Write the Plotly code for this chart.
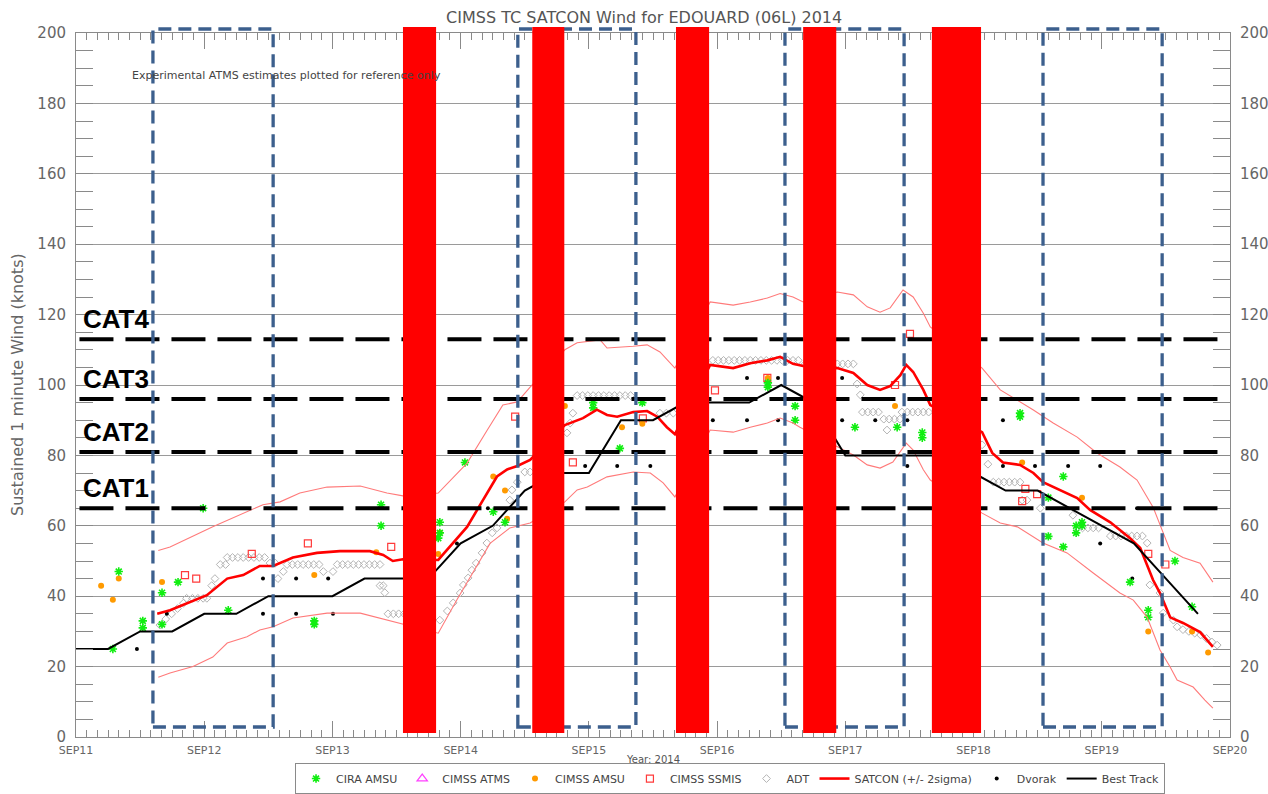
import plotly.graph_objects as go

# ---------------- DATA (hours after 11 Sep 2014 00Z, knots) ----------------
day_labels = ["SEP11", "SEP12", "SEP13", "SEP14", "SEP15", "SEP16", "SEP17", "SEP18", "SEP19", "SEP20"]
day_hours = [0, 24, 48, 72, 96, 120, 144, 168, 192, 216]

bt_hours = [0, 6, 12, 18, 24, 30, 36, 42, 48, 54, 60, 66, 72, 78, 84, 90, 96, 102,
            108, 114, 120, 126, 132, 138, 144, 150, 156, 162, 168, 174, 180, 186, 192, 198, 204, 210]
bt_kt = [25, 25, 30, 30, 35, 35, 40, 40, 40, 45, 45, 45, 55, 60, 70, 75, 75, 90,
         90, 95, 95, 95, 100, 95, 80, 80, 80, 80, 75, 70, 70, 65, 60, 55, 45, 35]

sat_hours = [15.2, 17.6, 24.5, 28.3, 31.3, 34.4, 36.9, 40.6, 45.1, 49.4, 55.0, 57.5, 59.3, 61.2, 67.8,
             73.2, 78.8, 80.7, 82.6, 85.0, 91.5, 94.9, 97.5, 99.4, 101.3, 104.3, 106.9, 108.8, 110.6, 112.1,
             118.7, 123.0, 126.2, 129.4, 131.8, 134.2, 136.1, 142.5, 145.5, 148.1, 150.5, 152.4, 154.3, 155.4,
             156.7, 158.6, 159.9, 169.6, 171.5, 173.5, 176.7, 179.2, 181.0, 184.8, 187.4, 189.8, 193.6, 197.3,
             199.2, 201.6, 202.9, 204.8, 207.2, 210.4, 211.7, 212.8]
sat_kt = [35, 36, 40.3, 45, 46, 48.6, 48.6, 51, 52.3, 52.8, 52.8, 51.7, 50, 50.5, 50.3,
          59.7, 74, 76, 77, 78.7, 88.6, 90.6, 93, 91.5, 91, 92.3, 92.6, 91, 88, 86,
          105.7, 104.8, 106.2, 107, 108, 106, 105.4, 104.8, 103.4, 100, 98.6, 99.7, 102.8, 105.7,
          103.7, 98.6, 94.3, 86.6, 80.7, 78, 77.3, 75, 72.4, 69.6, 67.9, 64.5, 61, 56.5,
          53.7, 44.6, 40.9, 34, 32.4, 29.8, 27.6, 25.6]

sat_up_hours = [15.4, 17.6, 25.6, 31.3, 35.0, 38.2, 41.9, 47.0, 53.2, 58.2, 61.2, 67.8, 73.2, 76.9, 79.9,
                82.6, 85.0, 91.5, 93.8, 98.1, 99.4, 104.3, 106.9, 109.3, 112.1, 118.7, 123.0, 126.2, 129.4,
                131.8, 134.2, 136.1, 142.5, 145.5, 148.1, 150.5, 152.4, 154.8, 156.7, 158.6, 159.9, 169.6,
                173.0, 179.2, 182.9, 187.4, 191.1, 195.4, 198.6, 201.6, 203.5, 204.8, 207.2, 210.4, 212.8]
sat_up_kt = [53, 54, 59.7, 63.6, 66, 66.8, 69.3, 71, 71.3, 69.3, 68.5, 69.3, 77.8, 87, 94.3,
             95.2, 99.4, 110, 112, 112.8, 110.5, 111, 111.4, 109.4, 104.8, 123.6, 122.7, 123.6, 124.7,
             126, 125, 123.6, 126.4, 125.6, 122.2, 120.7, 121.9, 127, 125, 120.4, 116.5, 104.8,
             98.6, 92.9, 89.2, 85.2, 80.7, 76.7, 73, 65.3, 58, 53, 51, 49.4, 44]

sat_lo_hours = [15.4, 17.6, 21.9, 25.6, 28.3, 32.0, 34.4, 36.9, 40.6, 47.0, 53.2, 58.2, 61.2, 67.8, 71.3,
                77.5, 81.2, 85.0, 91.5, 93.8, 95.7, 98.1, 99.4, 104.3, 107.5, 109.9, 112.1, 118.7, 123.0,
                126.2, 129.4, 131.8, 134.2, 135.5, 142.5, 145.5, 148.1, 150.5, 152.9, 155.4, 156.7, 158.6,
                159.9, 169.6, 173.0, 176.2, 181.0, 185.5, 190.4, 195.4, 197.9, 200.5, 202.9, 204.8, 206.1,
                209.1, 211.3, 212.8]
sat_lo_kt = [17, 18.2, 20, 22.7, 26.7, 28.5, 30.4, 31.3, 33.8, 35.2, 35.2, 33.2, 32, 29.5, 39,
             55, 59.4, 60.8, 66.8, 70.2, 71, 73, 73.9, 75.3, 75, 72.2, 68.2, 87.2, 86.6,
             88, 89.2, 90.6, 89.2, 88, 82.4, 80.1, 77.3, 76.4, 78.1, 83.5, 81.5, 75.9,
             73, 63.6, 60.8, 59.7, 55.1, 52.3, 46.6, 40.9, 38.9, 34, 24.7, 19.9, 16.2,
             14.2, 10.5, 8.2]

adt_hours = [15.7, 16.8, 17.9, 19.0, 20.1, 20.7, 21.8, 22.8, 23.8, 24.5,
             25.4, 26.0, 27.0, 28.0,
             28.3, 29.3, 30.3, 31.3, 32.3, 33.3, 34.3, 35.3,
             36.3, 37.3, 37.8, 38.8,
             39.5, 40.5, 41.5, 42.5, 43.5, 44.5, 45.5,
             46.3, 48.1,
             48.9, 49.9, 50.9, 51.9, 52.9, 53.9, 54.9, 55.9, 56.9,
             56.9, 57.5, 57.8,
             58.4, 59.4, 60.4, 61.4, 62.4,
             68.1, 69.5, 70.6, 71.9, 72.5, 73.4, 74.1, 74.9, 76.0, 76.9, 77.9, 78.8, 81.2, 81.6, 82.6, 84.0, 85.0,
             91.9, 92.5, 93.0,
             93.8, 94.8, 95.8, 96.8, 97.8, 98.8, 99.8, 100.8, 101.8, 102.8, 103.8,
             109.3, 110.5, 111.8,
             119.2, 120.2, 121.2, 122.2, 123.2, 124.2, 125.2, 126.2, 127.2, 128.2, 129.2, 130.2, 131.2, 132.2,
             133.2, 134.2, 135.2,
             136.5, 137.5, 138.5, 139.5, 140.5, 141.5, 142.5, 143.5, 144.5, 145.5,
             146.2, 146.8,
             147.2, 148.2, 149.2, 150.2,
             151.2, 152.2, 153.2, 154.2,
             151.8,
             154.6, 155.6, 156.6, 157.6, 158.6, 159.6,
             169.6, 170.7,
             171.7, 172.7, 173.7, 174.7, 175.7, 176.7,
             177.1, 178.0, 180.5, 186.6,
             187.4, 188.4, 189.4, 190.4, 191.4,
             193.6, 194.6, 195.6, 196.6, 197.6, 198.6, 199.6,
             200.5, 201.0, 202.9, 203.5, 205.4,
             206.1, 207.2, 208.3, 209.4, 210.5, 211.6, 212.6, 213.6]
adt_kt = [31.8, 33.5, 35, 36.5, 38, 39.4, 39.4, 39.4, 39.4, 39.4,
          43, 45, 49, 49,
          51, 51, 51, 51, 51, 51, 51, 51,
          49.4, 49.4, 45, 47,
          49, 49, 49, 49, 49, 49, 49,
          47, 47,
          49, 49, 49, 49, 49, 49, 49, 49, 49,
          43, 43, 41,
          35, 35, 35, 35, 35,
          33.2, 35.8, 38.1, 40.9, 43.2, 45.2, 47.4, 49.4, 52.3, 55.1, 58, 59.4, 67.3, 70.2, 72.4, 75.3, 75.3,
          86.4, 89.2, 92,
          97, 97, 97, 97, 97, 97, 97, 97, 97, 97, 97,
          92, 92, 92,
          107, 107, 107, 107, 107, 107, 107, 107, 107, 107, 107, 107, 107, 107,
          107, 107, 107,
          106, 106, 106, 106, 106, 106, 106, 106, 106, 106,
          100.3, 97.2,
          92.3, 92.3, 92.3, 92.3,
          90.3, 90.3, 90.3, 90.3,
          87.2,
          92.3, 92.3, 92.3, 92.3, 92.3, 92.3,
          83, 77.5,
          72.4, 72.4, 72.4, 72.4, 72.4, 72.4,
          67.3, 67.3, 65, 63,
          59.4, 59.4, 59.4, 59.4, 59.4,
          57.1, 57.1, 57.1, 57.1, 57.1, 57.1, 57.1,
          55.1, 43.2, 40.9, 35.2, 33.2,
          31.3, 30.5, 30, 29.5, 29, 28, 27, 26.1]

dvorak_hours = [11.4, 17.0, 35.0, 35.0, 41.2, 41.2, 47.2, 48.1, 71.3, 77.1, 95.3, 101.3, 107.5, 119.2, 125.6,
                125.6, 131.4, 131.4, 143.4, 143.4, 149.6, 155.6, 155.6, 173.5, 173.5, 179.5, 185.7, 191.7,
                198.6, 191.7, 197.7]
dvorak_kt = [25, 35, 45, 35, 45, 35, 45, 35, 55, 65, 77, 77, 77, 90, 102,
             90, 90, 102, 102, 90, 90, 90, 77, 90, 77, 77, 77, 77,
             65, 55, 45]

cira_hours = [6.9, 8.0, 12.5, 12.5, 16.1, 16.1, 19.1, 23.8, 28.5, 44.6, 44.6, 57.1, 57.1, 67.8, 68.1,
              68.1, 72.8, 78.1, 80.3, 96.8, 96.8, 101.8, 106.0, 129.5, 129.5, 134.6, 134.6, 145.8, 153.7,
              158.4, 158.4, 176.7, 176.7, 182.0, 184.8, 182.0, 184.8, 187.2, 187.2, 188.3, 188.3, 197.3,
              200.7, 200.7, 205.7, 208.9]
cira_kt = [25, 47, 33, 31, 41, 32, 44, 65, 36, 33, 32, 60, 66, 56.5, 58,
           61, 78, 64, 61, 95, 93.5, 82, 95, 100.6, 99.4, 94, 90, 88, 88,
           86.5, 85, 92, 91, 68, 74, 57, 54, 60, 58, 61, 60, 44,
           36, 34, 50, 37]

# no CIMSS ATMS estimates appear in the plot (legend entry only)
atms_hours = [None]
atms_kt = [None]

amsu_hours = [4.7, 6.9, 8.0, 16.1, 44.6, 56.2, 67.8, 68.1, 78.1, 80.3, 80.7, 91.5, 102.2, 106.0, 129.5,
              153.3, 177.1, 188.3, 200.7, 208.9, 211.9]
amsu_kt = [43, 39, 45, 44, 46, 52.5, 52, 58, 74, 70, 62, 94, 88, 89, 102,
           94, 78, 68, 30, 30, 24]

ssmis_hours = [20.4, 22.5, 32.9, 43.4, 59.0, 82.2, 93.0, 106.1, 119.6, 129.4, 153.3, 156.1, 177.7, 177.1,
               179.9, 200.7, 203.9]
ssmis_kt = [46, 45, 52, 55, 54, 91, 78, 90.5, 98.5, 102, 100, 114.5, 70.5, 67,
            69, 52, 49]

cat_labels = ["CAT1", "CAT2", "CAT3", "CAT4"]
cat_kt = [65, 81, 96, 113]

# overlay boxes / bars (hours)
box_start = [14.4, 82.7, 132.7, 181.0]
box_end = [36.9, 104.8, 155.0, 203.3]
bar_start = [61.2, 85.4, 112.3, 136.1, 160.2]
bar_end = [67.4, 91.4, 118.5, 142.3, 169.4]

# ---------------- FIGURE ----------------
GRAY = "#666666"
AXC = "#8a8a8a"
FONT = "DejaVu Sans"

fig = go.Figure()

fig.add_trace(go.Scatter(x=adt_hours, y=adt_kt, mode="markers", name="ADT", legendrank=5,
                         marker=dict(symbol="diamond-open", size=6, color="#b4b4b4",
                                     line=dict(width=1, color="#b4b4b4")),
                         hoverinfo="skip"))
fig.add_trace(go.Scatter(x=dvorak_hours, y=dvorak_kt, mode="markers", name="Dvorak", legendrank=7,
                         marker=dict(symbol="circle", size=4, color="black")))
fig.add_trace(go.Scatter(x=ssmis_hours, y=ssmis_kt, mode="markers", name="CIMSS SSMIS", legendrank=4,
                         marker=dict(symbol="square-open", size=7, color="#ff3b3b",
                                     line=dict(width=1.2, color="#ff3b3b"))))
fig.add_trace(go.Scatter(x=atms_hours, y=atms_kt, mode="markers", name="CIMSS ATMS", legendrank=2,
                         marker=dict(symbol="triangle-up-open", size=9, color="#ff40ff",
                                     line=dict(width=1.2, color="#ff40ff"))))
fig.add_trace(go.Scatter(x=amsu_hours, y=amsu_kt, mode="markers", name="CIMSS AMSU", legendrank=3,
                         marker=dict(symbol="circle", size=6, color="#ff9a00")))
fig.add_trace(go.Scatter(x=cira_hours, y=cira_kt, mode="markers", name="CIRA AMSU", legendrank=1,
                         marker=dict(symbol="asterisk-open", size=7, color="#11ee11",
                                     line=dict(width=1.6, color="#11ee11"))))
fig.add_trace(go.Scatter(x=sat_up_hours, y=sat_up_kt, mode="lines", showlegend=False,
                         legendgroup="sat", line=dict(color="#ff7a7a", width=1.1)))
fig.add_trace(go.Scatter(x=sat_lo_hours, y=sat_lo_kt, mode="lines", showlegend=False,
                         legendgroup="sat", line=dict(color="#ff7a7a", width=1.1)))
fig.add_trace(go.Scatter(x=sat_hours, y=sat_kt, mode="lines", name="SATCON (+/- 2sigma)", legendrank=6,
                         legendgroup="sat", line=dict(color="#ff0000", width=2.6)))
fig.add_trace(go.Scatter(x=bt_hours, y=bt_kt, mode="lines", name="Best Track", legendrank=8,
                         line=dict(color="black", width=2)))
# dummy trace so the right axis is drawn
fig.add_trace(go.Scatter(x=[None], y=[None], yaxis="y2", showlegend=False, hoverinfo="skip"))

shapes = []
for v in cat_kt:
    shapes.append(dict(type="line", xref="paper", yref="y", x0=0.003, x1=0.993, y0=v, y1=v,
                       line=dict(color="black", width=4, dash="34px,12px"), layer="above"))
for s, e in zip(box_start, box_end):
    shapes.append(dict(type="rect", xref="x", yref="paper", x0=s, x1=e, y0=0.0142, y1=1.0057,
                       line=dict(color="#3c5f8d", width=3.3, dash="13px,7px"),
                       fillcolor="rgba(0,0,0,0)", layer="above"))
for s, e in zip(bar_start, bar_end):
    shapes.append(dict(type="rect", xref="x", yref="paper", x0=s, x1=e, y0=0.0057, y1=1.0085,
                       line=dict(width=0), fillcolor="#ff0000", layer="above"))

annotations = []
for lab, v in zip(cat_labels, cat_kt):
    annotations.append(dict(text="<b>" + lab + "</b>", xref="paper", yref="y", x=0.004, y=v,
                            xanchor="left", yanchor="bottom", yshift=3, showarrow=False,
                            font=dict(family="Liberation Sans", size=26, color="black")))
annotations.append(dict(text="Experimental ATMS estimates plotted for reference only", xref="paper",
                        yref="paper", x=0.0468, y=0.9403, xanchor="left", yanchor="middle",
                        showarrow=False, font=dict(family=FONT, size=11, color="#444444")))
annotations.append(dict(text="Year: 2014", xref="paper", yref="paper", x=0.5, y=-0.0313,
                        xanchor="center", yanchor="middle", showarrow=False,
                        font=dict(family=FONT, size=10, color="#555555")))
annotations.append(dict(text="Sustained 1 minute Wind (knots)", xref="paper", yref="paper", x=-0.0511,
                        y=0.5, xanchor="center", yanchor="middle", textangle=-90, showarrow=False,
                        font=dict(family=FONT, size=16, color=GRAY)))

yax_common = dict(range=[0, 200], tick0=0, dtick=20, ticks="inside", ticklen=17, tickcolor=AXC,
                  showline=True, linecolor=AXC, linewidth=1, zeroline=False, automargin=False,
                  minor=dict(dtick=5, tick0=0, ticks="inside", ticklen=17, tickcolor=AXC, showgrid=False),
                  tickfont=dict(family=FONT, size=15, color=GRAY), ticklabelstandoff=6, fixedrange=True)

fig.update_layout(
    width=1268, height=794, autosize=False,
    margin=dict(l=76, r=38, t=33, b=57, autoexpand=False),
    plot_bgcolor="white", paper_bgcolor="white",
    font=dict(family=FONT, color=GRAY),
    title=dict(text="CIMSS TC SATCON Wind for EDOUARD (06L) 2014", xref="container", x=0.508,
               xanchor="center", y=0.9786, yanchor="middle",
               font=dict(family=FONT, size=16, color="#555555")),
    xaxis=dict(range=[0, 216], tickmode="array", tickvals=day_hours, ticktext=day_labels,
               ticks="inside", ticklen=16, tickcolor=AXC, showline=True, linecolor=AXC, mirror="ticks",
               showgrid=False, zeroline=False, automargin=False, fixedrange=True,
               minor=dict(tickmode="linear", tick0=0, dtick=2, ticks="inside", ticklen=7, tickcolor=AXC,
                          showgrid=False),
               tickfont=dict(family=FONT, size=11, color=GRAY), ticklabelstandoff=3),
    yaxis=dict(showgrid=True, gridcolor="#9a9a9a", gridwidth=1, **yax_common),
    yaxis2=dict(overlaying="y", side="right", showgrid=False, **yax_common),
    showlegend=True,
    legend=dict(orientation="h", x=0.1898, xanchor="left", y=-0.037, yanchor="top",
                bordercolor="#8a8a8a", borderwidth=1, bgcolor="white", traceorder="normal",
                font=dict(family=FONT, size=11, color="#444444")),
    shapes=shapes, annotations=annotations,
)

fig.write_html("out.html", config={"displayModeBar": False},
               post_script="document.body.style.margin='0';document.body.style.overflow='hidden';")
